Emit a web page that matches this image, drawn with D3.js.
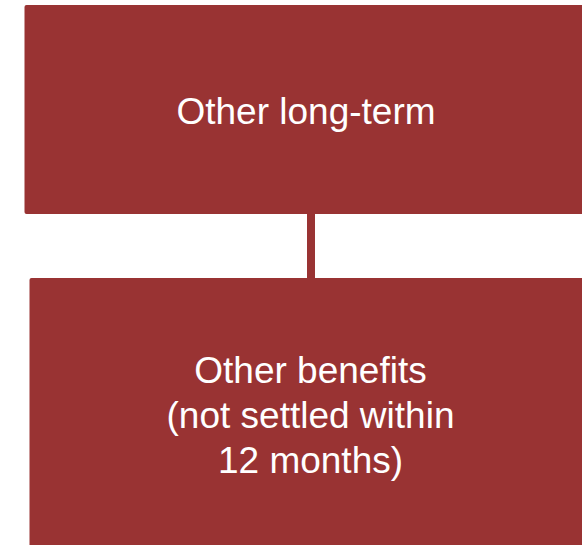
<!DOCTYPE html>
<html>
<head>
<meta charset="utf-8">
<script src="https://cdn.jsdelivr.net/npm/d3@7"></script>
<style>
  html, body { margin: 0; padding: 0; background: #fff; overflow: hidden; }
  svg { display: block; }
  text { font-family: "Liberation Sans", Arial, sans-serif; fill: #fff; }
</style>
</head>
<body>
<div id="chart"></div>
<script>
// org-chart style: parent -> child
const nodeIds = ['parent', 'child'];
const nodeParents = [null, 'parent'];
const nodeLabels = [
  ['Other long-term'],
  ['Other benefits', '(not settled within', '12 months)']
];

const W = 582, H = 545;
const fill = '#993333';

const svg = d3.select('#chart').append('svg')
  .attr('width', W)
  .attr('height', H);

const root = d3.stratify()
  .id((d, i) => nodeIds[i])
  .parentId((d, i) => nodeParents[i])(nodeIds);

// box geometry per depth (the boxes run off the right/bottom edge)
const boxes = [
  {x: 24.5, y: 5, w: 563, h: 209, cx: 306},
  {x: 29.5, y: 278, w: 562, h: 272, cx: 310.5}
];
const fontsize = 37, lineheight = 45;

// connector
root.links().forEach(l => {
  let a = boxes[l.source.depth], b = boxes[l.target.depth];
  svg.append('rect')
    .attr('x', 307)
    .attr('y', a.y + a.h - 1)
    .attr('width', 8)
    .attr('height', b.y - (a.y + a.h) + 2)
    .attr('fill', fill);
});

const nodes = svg.selectAll('g.node')
  .data(root.descendants())
  .join('g')
    .attr('class', 'node');

nodes.append('rect')
  .attr('x', d => boxes[d.depth].x)
  .attr('y', d => boxes[d.depth].y)
  .attr('width', d => boxes[d.depth].w)
  .attr('height', d => boxes[d.depth].h)
  .attr('rx', 2)
  .attr('fill', fill);

nodes.append('text')
  .attr('text-anchor', 'middle')
  .style('font-size', fontsize + 'px')
  .selectAll('tspan')
  .data(d => {
    let b = boxes[d.depth];
    let lines = nodeLabels[nodeIds.indexOf(d.id)];
    let mid = b.y + b.h / 2;
    return lines.map((t, i) => ({
      t, x: b.cx,
      y: mid + (i - (lines.length - 1) / 2) * lineheight + fontsize * 0.38
    }));
  })
  .join('tspan')
    .attr('x', d => d.x)
    .attr('y', d => d.y)
    .text(d => d.t);
</script>
</body>
</html>
